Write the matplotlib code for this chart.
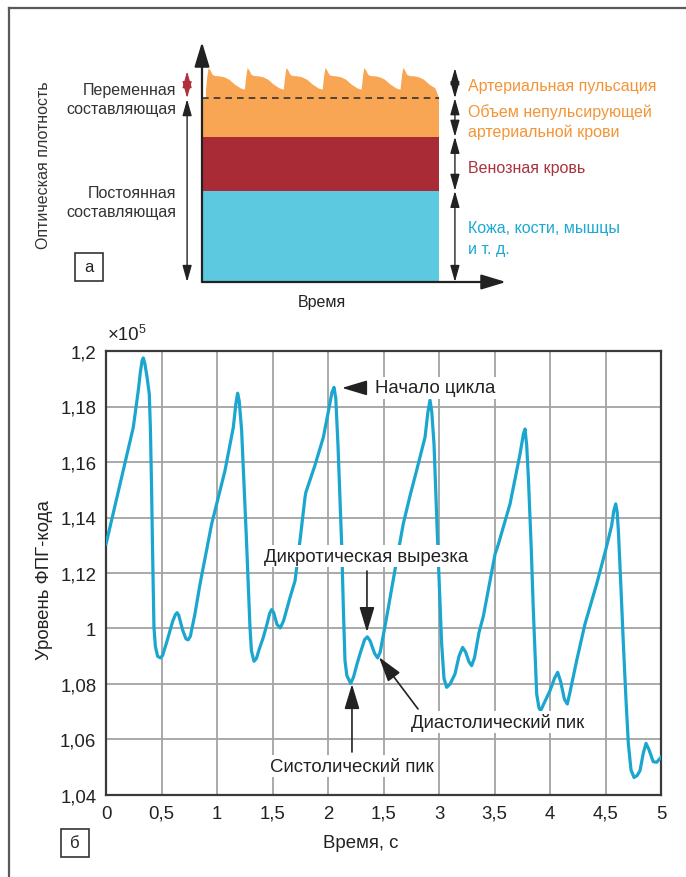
import matplotlib
matplotlib.use("Agg")
import matplotlib.pyplot as plt
from matplotlib.patches import Rectangle
from matplotlib.lines import Line2D

plt.rcParams['font.family'] = ['Liberation Sans', 'DejaVu Sans']

W, H, DPI = 686, 878, 100

# ---------------- PPG record (time, s ; code level, x1e5) ----------------
time_s = [0.00, 0.10, 0.246, 0.29, 0.31, 0.325, 0.336, 0.35, 0.37, 0.39,
          0.40, 0.41, 0.42, 0.432, 0.445, 0.465, 0.49, 0.51, 0.55, 0.60,
          0.625, 0.64, 0.655, 0.69, 0.72, 0.74, 0.76, 0.80, 0.847, 0.952,
          1.072, 1.147, 1.17, 1.186, 1.20, 1.222, 1.267, 1.297, 1.31, 1.333,
          1.355, 1.38, 1.417, 1.45, 1.475, 1.492, 1.51, 1.54, 1.57, 1.60,
          1.658, 1.703, 1.75, 1.793, 1.80, 1.88, 1.958, 2.00, 2.035, 2.054,
          2.07, 2.09, 2.11, 2.123, 2.14, 2.153, 2.17, 2.204, 2.23, 2.26,
          2.288, 2.33, 2.354, 2.38, 2.42, 2.447, 2.47, 2.528, 2.618, 2.678,
          2.74, 2.798, 2.874, 2.90, 2.919, 2.935, 2.955, 2.975, 2.994, 3.024,
          3.045, 3.069, 3.10, 3.144, 3.18, 3.213, 3.24, 3.27, 3.294, 3.32,
          3.36, 3.40, 3.505, 3.535, 3.64, 3.73, 3.76, 3.775, 3.79, 3.805,
          3.83, 3.85, 3.88, 3.90, 3.916, 3.94, 4.00, 4.04, 4.069, 4.095,
          4.13, 4.156, 4.18, 4.24, 4.315, 4.42, 4.50, 4.555, 4.575, 4.592,
          4.605, 4.616, 4.64, 4.661, 4.685, 4.706, 4.73, 4.757, 4.785, 4.811,
          4.84, 4.865, 4.89, 4.93, 4.961, 5.00]
ppg_level = [1.1304, 1.1475, 1.1725, 1.1855, 1.1925, 1.1965, 1.1975, 1.1955, 1.1905, 1.1845,
             1.1720, 1.1520, 1.1270, 1.1005, 1.0935, 1.0900, 1.0894, 1.0903, 1.0955, 1.1025,
             1.1050, 1.1057, 1.1048, 1.0995, 1.0963, 1.0959, 1.0972, 1.1050, 1.1160, 1.1377,
             1.1569, 1.1725, 1.1810, 1.1848, 1.1820, 1.1713, 1.1304, 1.1005, 1.0920, 1.0882,
             1.0892, 1.0925, 1.0968, 1.1015, 1.1055, 1.1068, 1.1058, 1.1015, 1.1002, 1.1028,
             1.1112, 1.1172, 1.1325, 1.1473, 1.1490, 1.1585, 1.1689, 1.1775, 1.1850, 1.1869,
             1.1830, 1.1660, 1.1450, 1.1304, 1.1050, 1.0884, 1.0830, 1.0802, 1.0825, 1.0870,
             1.0908, 1.0960, 1.0970, 1.0955, 1.0910, 1.0894, 1.0915, 1.1040, 1.1244, 1.1377,
             1.1480, 1.1569, 1.1689, 1.1780, 1.1823, 1.1780, 1.1665, 1.1450, 1.1244, 1.0944,
             1.0820, 1.0788, 1.0800, 1.0836, 1.0900, 1.0932, 1.0915, 1.0880, 1.0866, 1.0895,
             1.0985, 1.1045, 1.1268, 1.1304, 1.1449, 1.1629, 1.1700, 1.1719, 1.1660, 1.1545,
             1.1300, 1.1064, 1.0764, 1.0715, 1.0704, 1.0725, 1.0776, 1.0820, 1.0842, 1.0810,
             1.0745, 1.0728, 1.0770, 1.0884, 1.1016, 1.1160, 1.1280, 1.1370, 1.1425, 1.1449,
             1.1420, 1.1352, 1.1140, 1.0944, 1.0740, 1.0584, 1.0490, 1.0463, 1.0470, 1.0488,
             1.0550, 1.0586, 1.0565, 1.0520, 1.0518, 1.0536]
assert len(time_s) == len(ppg_level)

x_ticks = [0, 0.5, 1, 1.5, 2, 2.5, 3, 3.5, 4, 4.5, 5]
x_tick_labels = ['0', '0,5', '1', '1,5', '2', '1,5', '3', '3,5', '4', '4,5', '5']
y_ticks = [1.04, 1.06, 1.08, 1.10, 1.12, 1.14, 1.16, 1.18, 1.20]
y_tick_labels = ['1,04', '1,06', '1,08', '1', '1,12', '1,14', '1,16', '1,18', '1,2']

# ---------------- layered optical density diagram ----------------
layer_bounds = [0.0, 3.0, 4.78, 6.05]           # skin / venous / non-pulsatile arterial
layer_colors = ['#5DC9E0', '#A82B35', '#F8A654']
layer_end = 7.8                                 # right edge of the coloured block
pulse_starts = [0.13, 1.41, 2.69, 3.97, 5.25, 6.53]
pulse_dx = [0.0, 0.05, 0.09, 0.14, 0.22, 0.30, 0.45, 0.60, 0.77, 0.95, 1.15, 1.28]
pulse_level = [6.33, 6.80, 7.04, 6.98, 6.82, 6.78, 6.77, 6.74, 6.66, 6.50, 6.37, 6.33]

ORANGE_TXT = '#F39536'
RED_TXT = '#A8333D'
CYAN_TXT = '#1CA9D3'
CURVE = '#1BA6CF'
DARK = '#222222'
FS_TOP = 11.5
FS = 13.4


def fx(px):
    return px / W


def fy(py):
    return 1 - py / H


fig = plt.figure(figsize=(W / DPI, H / DPI), dpi=DPI)
fig.patch.set_facecolor('white')

# outer frame (top and left edges)
fig.add_artist(Line2D([fx(8.5), 1.0], [fy(8.5), fy(8.5)], transform=fig.transFigure,
                      color='#5a5a5a', lw=1.6))
fig.add_artist(Line2D([fx(8.5), fx(8.5)], [fy(8.5), 0.0], transform=fig.transFigure,
                      color='#5a5a5a', lw=1.6))

# ================= diagram (а) =================
axd = fig.add_axes([fx(202), fy(283), fx(304), 240 / H])
axd.set_xlim(0, 10)
axd.set_ylim(0, 7.9)
axd.axis('off')

for lo, hi, c in zip(layer_bounds[:-1], layer_bounds[1:], layer_colors):
    axd.add_patch(Rectangle((0, lo), layer_end, hi - lo, facecolor=c, edgecolor='none', zorder=1))

# pulsating arterial part on top of the non-pulsatile level
wave_x = [pulse_starts[0]]
wave_y = [layer_bounds[-1]]
for s in pulse_starts:
    for dx, lv in zip(pulse_dx, pulse_level):
        xx = s + dx
        if xx <= layer_end:
            wave_x.append(xx)
            wave_y.append(lv)
wave_x.append(layer_end)
wave_y.append(layer_bounds[-1])
axd.fill(wave_x, wave_y, color=layer_colors[2], lw=0, zorder=1)
axd.plot([0, layer_end], [layer_bounds[-1], layer_bounds[-1]], color='#333333',
         lw=1.2, ls=(0, (4, 3)), zorder=2)

axis_arrow = dict(arrowstyle='-|>,head_length=1.25,head_width=0.38', mutation_scale=12,
                  color=DARK, lw=1.6, shrinkA=0, shrinkB=0)
axd.annotate('', xy=(0, 7.9), xytext=(0, 0), arrowprops=axis_arrow, annotation_clip=False)
axd.annotate('', xy=(10, 0), xytext=(0, 0), arrowprops=axis_arrow, annotation_clip=False)


def double_arrow(ax, x, y0, y1, color=DARK):
    ax.annotate('', xy=(x, y1), xytext=(x, y0),
                arrowprops=dict(arrowstyle='<|-|>,head_length=1.0,head_width=0.28',
                                mutation_scale=10, color=color, lw=1.0,
                                shrinkA=0, shrinkB=0),
                annotation_clip=False)


right_x = 8.32
seg_bounds = [0.0, 3.0, 4.78, 6.05, 7.04]
for lo, hi in zip(seg_bounds[:-1], seg_bounds[1:]):
    double_arrow(axd, right_x, lo, hi)

left_x = -0.49
double_arrow(axd, left_x, 6.05, 6.94, color='#B0303C')
double_arrow(axd, left_x, 0.0, 6.02)

fig.text(fx(468), fy(87), 'Артериальная пульсация', color=ORANGE_TXT, fontsize=FS_TOP, va='center')
fig.text(fx(468), fy(122), 'Объем непульсирующей\nартериальной крови', color=ORANGE_TXT,
         fontsize=FS_TOP, va='center', linespacing=1.3)
fig.text(fx(468), fy(169), 'Венозная кровь', color=RED_TXT, fontsize=FS_TOP, va='center')
fig.text(fx(468), fy(239), 'Кожа, кости, мышцы\nи т. д.', color=CYAN_TXT,
         fontsize=FS_TOP, va='center', linespacing=1.55)

fig.text(fx(176), fy(100), 'Переменная\nсоставляющая', color='#333333', fontsize=FS_TOP,
         ha='right', va='center', linespacing=1.3)
fig.text(fx(176), fy(203), 'Постоянная\nсоставляющая', color='#333333', fontsize=FS_TOP,
         ha='right', va='center', linespacing=1.3)
fig.text(fx(43), fy(165), 'Оптическая плотность', color='#333333', fontsize=FS_TOP,
         rotation=90, ha='center', va='center')
fig.text(fx(322), fy(302), 'Время', color='#222222', fontsize=FS_TOP, ha='center', va='center')


def panel_tag(x0, y0, label, size):
    fig.add_artist(Rectangle((fx(x0), fy(y0 + 28)), 28 / W, 28 / H, transform=fig.transFigure,
                             facecolor='white', edgecolor='#333333', lw=1.2))
    fig.text(fx(x0 + 14), fy(y0 + 14), label, fontsize=size, ha='center', va='center',
             color='#222222')


panel_tag(75, 254, 'а', FS_TOP + 0.5)
panel_tag(61, 830, 'б', FS_TOP + 0.5)

# ================= PPG record (б) =================
ax = fig.add_axes([fx(106), fy(796), fx(555), 444 / H])
ax.set_xlim(0, 5)
ax.set_ylim(1.04, 1.20)
ax.set_xticks(x_ticks)
ax.set_xticklabels(x_tick_labels)
ax.set_yticks(y_ticks)
ax.set_yticklabels(y_tick_labels)
ax.tick_params(length=0, labelsize=FS, colors='#222222', pad=7)
ax.grid(True, color='#a3a3a3', lw=1.3, zorder=0)
ax.set_axisbelow(True)
for sp in ax.spines.values():
    sp.set_color('#3a3a3a')
    sp.set_linewidth(1.6)

ax.plot(time_s, ppg_level, color=CURVE, lw=2.3, zorder=3, solid_joinstyle='round')

fig.text(fx(361), fy(844), 'Время, с', fontsize=FS, ha='center', va='center', color='#222222')
fig.text(fx(45), fy(580), 'Уровень ФПГ-кода', fontsize=FS, rotation=90,
         ha='center', va='center', color='#222222')
fig.text(fx(108), fy(336), '×10', fontsize=FS, ha='left', va='center', color='#222222')
fig.text(fx(139), fy(330), '5', fontsize=FS - 4.5, ha='left', va='center', color='#222222')

box = dict(boxstyle='square,pad=0.12', facecolor='white', edgecolor='none')
ptr = dict(arrowstyle='-|>,head_length=1.4,head_width=0.42', mutation_scale=11,
           color=DARK, lw=1.2, shrinkA=0, shrinkB=0)

# cycle start
ax.annotate('', xy=(2.126, 1.1867), xytext=(2.342, 1.1867), arrowprops=ptr, zorder=6)
ax.text(2.423, 1.1867, 'Начало цикла', fontsize=FS, ha='left', va='center',
        bbox=box, zorder=5, color='#222222')
# dicrotic notch
ax.text(2.34, 1.1261, 'Дикротическая вырезка', fontsize=FS, ha='center', va='center',
        bbox=box, zorder=5, color='#222222')
ax.annotate('', xy=(2.351, 1.0987), xytext=(2.351, 1.1207), arrowprops=ptr, zorder=6)
# systolic peak
ax.text(2.216, 1.0504, 'Систолический пик', fontsize=FS, ha='center', va='center',
        bbox=box, zorder=5, color='#222222')
ax.annotate('', xy=(2.216, 1.0800), xytext=(2.216, 1.0555), arrowprops=ptr, zorder=6)
# diastolic peak
ax.text(3.53, 1.0663, 'Диастолический пик', fontsize=FS, ha='center', va='center',
        bbox=box, zorder=5, color='#222222')
ax.annotate('', xy=(2.459, 1.0897), xytext=(2.811, 1.0710), arrowprops=ptr, zorder=6)

fig.savefig('out.png', dpi=DPI, facecolor='white')
